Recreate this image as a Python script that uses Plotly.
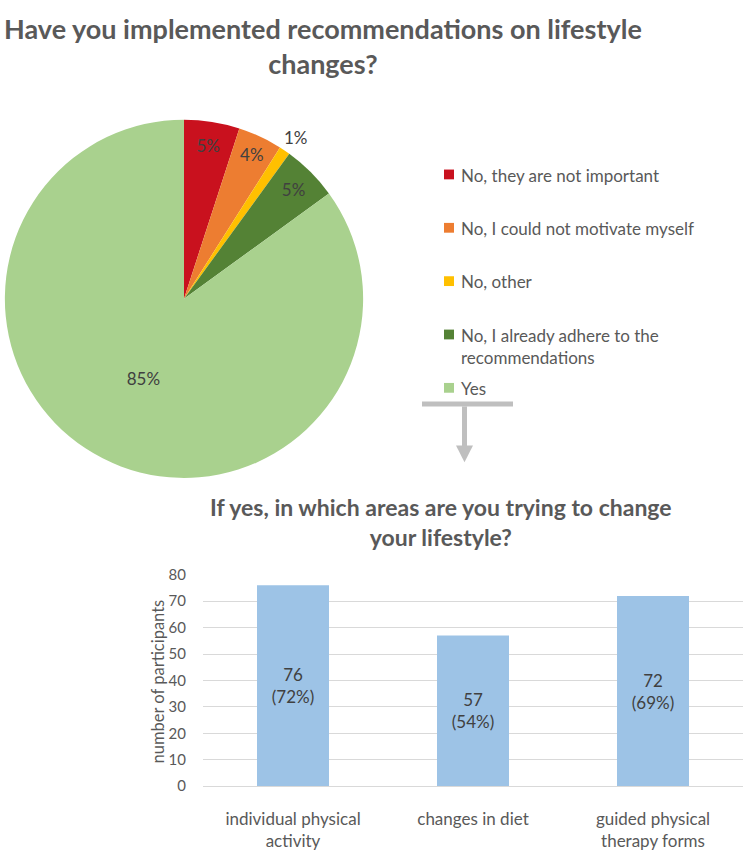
import math
import plotly.graph_objects as go

# ---- data ----
pie_labels = ["No, they are not important", "No, I could not motivate myself", "No, other",
              "No, I already adhere to the recommendations", "Yes"]
legend_text = ["No, they are not important", "No, I could not motivate myself", "No, other",
               "No, I already adhere to the<br>recommendations", "Yes"]
pie_values = [5, 4, 1, 5, 85]
pie_colors = ["#C9111E", "#ED7D31", "#FFC000", "#548235", "#A9D18E"]

bar_categories = ["individual physical<br>activity", "changes in diet", "guided physical<br>therapy forms"]
bar_counts = [76, 57, 72]
bar_percents = [72, 54, 69]
y_ticks = [0, 10, 20, 30, 40, 50, 60, 70, 80]

W, H = 744, 851
FONT = "Lato"
GRAY = "#595959"
DARK = "#404040"


def px(x):
    return x / W


def py(y):
    return 1 - y / H


# pie geometry (pixels)
PCX, PCY, PR = 184, 295, 183
OUTSIDE = 2  # index of the slice whose label sits outside

total = sum(pie_values)
templates = ["" if i == OUTSIDE else "%{percent:.0%}" for i in range(len(pie_values))]

fig = go.Figure()

fig.add_trace(go.Pie(
    labels=pie_labels, values=pie_values, sort=False, direction="clockwise", rotation=0,
    marker=dict(colors=pie_colors, line=dict(width=0)),
    texttemplate=templates,
    textposition="inside",
    insidetextorientation="horizontal",
    textfont=dict(family=FONT, size=17, color=DARK),
    domain=dict(x=[px(PCX - PR), px(PCX + PR)], y=[py(PCY + PR), py(PCY - PR)]),
    showlegend=False, hoverinfo="label+percent",
))

fig.add_trace(go.Bar(
    x=bar_categories, y=bar_counts,
    text=[f"{c}<br>({p}%)" for c, p in zip(bar_counts, bar_percents)],
    textposition="inside", insidetextanchor="middle",
    textfont=dict(family=FONT, size=17, color=DARK),
    marker=dict(color="#9DC3E6", line=dict(width=0)),
    width=0.4, showlegend=False, cliponaxis=False,
))

fig.update_layout(
    width=W, height=H, margin=dict(l=0, r=0, t=0, b=0),
    paper_bgcolor="white", plot_bgcolor="white",
    font=dict(family=FONT, color=GRAY),
    uniformtext=dict(minsize=17, mode="show"),
    xaxis=dict(domain=[px(203), px(743)], showline=True, linecolor="#D9D9D9", linewidth=1,
               ticks="", tickfont=dict(family=FONT, size=17, color=GRAY), ticklabelstandoff=17,
               fixedrange=True),
    yaxis=dict(domain=[py(793), py(577)], range=[0, 80], tickvals=y_ticks,
               gridcolor="#D9D9D9", gridwidth=1, zeroline=False, showline=False,
               ticks="", tickfont=dict(family=FONT, size=15, color=GRAY), ticklabelstandoff=16,
               fixedrange=True),
    showlegend=False,
)

# outside label for the thin slice, placed along its mid-angle
cum_before = sum(pie_values[:OUTSIDE])
mid_frac = (cum_before + pie_values[OUTSIDE] / 2) / total
ang = 2 * math.pi * mid_frac
lx = PCX + 1.09 * PR * math.sin(ang)
ly = PCY - 1.09 * PR * math.cos(ang)

annotations = [
    dict(text="<b>Have you implemented recommendations on lifestyle<br>changes?</b>",
         x=px(323), y=1.0, xref="paper", yref="paper", xanchor="center", yanchor="top",
         showarrow=False, font=dict(family=FONT, size=27, color=GRAY)),
    dict(text="<b>If yes, in which areas are you trying to change<br>your lifestyle?</b>",
         x=px(441), y=py(523), xref="paper", yref="paper", xanchor="center", yanchor="middle",
         showarrow=False, font=dict(family=FONT, size=23, color=GRAY)),
    dict(text="number of participants", textangle=-90,
         x=px(158), y=py(686), xref="paper", yref="paper", xanchor="center", yanchor="middle",
         showarrow=False, font=dict(family=FONT, size=16.5, color=GRAY)),
    dict(text=f"{round(100 * pie_values[OUTSIDE] / total)}%", x=px(lx), y=py(ly),
         xref="paper", yref="paper", xanchor="center", yanchor="middle",
         showarrow=False, font=dict(family=FONT, size=17, color=DARK)),
]

shapes = []
for i, (txt, col) in enumerate(zip(legend_text, pie_colors)):
    cy = 168 + i * 54.5
    shapes.append(dict(type="rect", xref="paper", yref="paper",
                       x0=px(444), x1=px(454), y0=py(cy + 5), y1=py(cy - 5),
                       fillcolor=col, line=dict(width=0)))
    annotations.append(dict(text=txt, x=px(459), y=py(cy - 12), xref="paper", yref="paper",
                            xanchor="left", yanchor="top", align="left", showarrow=False,
                            font=dict(family=FONT, size=17, color=GRAY)))

# arrow (T-bar + stem + head)
ARROW = "#BFBFBF"
shapes.append(dict(type="rect", xref="paper", yref="paper", x0=px(422), x1=px(513),
                   y0=py(405), y1=py(400), fillcolor=ARROW, line=dict(width=0)))
shapes.append(dict(type="rect", xref="paper", yref="paper", x0=px(462), x1=px(467),
                   y0=py(446), y1=py(405), fillcolor=ARROW, line=dict(width=0)))
shapes.append(dict(type="path", xref="paper", yref="paper",
                   path=f"M {px(456)} {py(445)} L {px(473)} {py(445)} L {px(464.5)} {py(462)} Z",
                   fillcolor=ARROW, line=dict(width=0)))

fig.update_layout(annotations=annotations, shapes=shapes)

fig.write_html("out.html")
